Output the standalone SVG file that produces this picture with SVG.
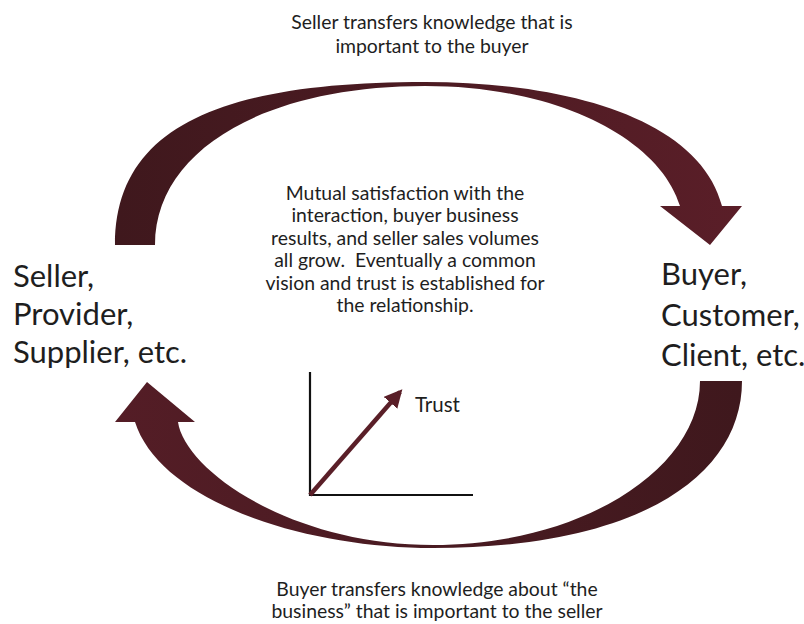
<svg xmlns="http://www.w3.org/2000/svg" width="804" height="624" viewBox="0 0 804 624">
  <defs>
    <linearGradient id="topFill" gradientUnits="userSpaceOnUse" x1="115" y1="0" x2="742" y2="0">
      <stop offset="0" stop-color="#3f181d"/>
      <stop offset="1" stop-color="#5a1e28"/>
    </linearGradient>
    <linearGradient id="bottomFill" gradientUnits="userSpaceOnUse" x1="742" y1="0" x2="115" y2="0">
      <stop offset="0" stop-color="#3f181d"/>
      <stop offset="1" stop-color="#541d26"/>
    </linearGradient>
    <marker id="trustHead" viewBox="0 0 10 10" refX="8" refY="5" markerWidth="4" markerHeight="4" orient="auto" markerUnits="strokeWidth">
      <path d="M0,0 L10,5 L0,10 Z" fill="#5a1f28"/>
    </marker>
  </defs>
  <style>
    .txt { font-family: "Lato", "Liberation Sans", sans-serif; fill: #1e1e1e; white-space: pre; }
    .note { font-size: 19.4px; text-anchor: middle; }
    .party { font-size: 31px; }
    .axis { stroke: #111; stroke-width: 2.2; fill: none; }
  </style>

  <!-- curved flow arrows between the two parties -->
  <g id="connectors">
    <path id="arrow-seller-to-buyer" fill="url(#topFill)"
      d="M115,245 C115,125 225,82 425,82 C570,82 700,120 722,206 L742,206 L710,245 L660,206 L680,206 C660,140 560,86 425,86 C265,86 155,150 155,245 Z"/>
    <path id="arrow-buyer-to-seller" fill="url(#bottomFill)"
      d="M742,381 C742,475 640,548 433,548 C300,548 160,500 135,422 L115,422 L147,382 L195,422 L178,422 C185,470 290,545 433,545 C580,545 700,470 700,381 Z"/>
    <text class="txt note" x="432" y="29">Seller transfers knowledge that is</text>
    <text class="txt note" x="432" y="52.5">important to the buyer</text>
    <text class="txt note" x="437" y="596">Buyer transfers knowledge about “the</text>
    <text class="txt note" x="437" y="618">business” that is important to the seller</text>
  </g>

  <g id="seller">
    <text class="txt party" x="13" y="287">Seller,</text>
    <text class="txt party" x="13" y="325">Provider,</text>
    <text class="txt party" x="13" y="363">Supplier, etc.</text>
  </g>

  <g id="buyer">
    <text class="txt party" x="661" y="285">Buyer,</text>
    <text class="txt party" x="661" y="326">Customer,</text>
    <text class="txt party" x="661" y="366">Client, etc.</text>
  </g>

  <g id="outcome">
    <text class="txt note" x="405" y="199.5">Mutual satisfaction with the</text>
    <text class="txt note" x="405" y="222">interaction, buyer business</text>
    <text class="txt note" x="405" y="244.5">results, and seller sales volumes</text>
    <text class="txt note" x="405" y="267">all grow.  Eventually a common</text>
    <text class="txt note" x="405" y="289.5">vision and trust is established for</text>
    <text class="txt note" x="405" y="312">the relationship.</text>
  </g>

  <g id="trust-chart">
    <path class="axis" d="M310,372 L310,495 L473,495"/>
    <line x1="310" y1="495" x2="400" y2="392" stroke="#5a1f28" stroke-width="4.5" marker-end="url(#trustHead)"/>
    <text class="txt" x="415" y="412" font-size="20.5px">Trust</text>
  </g>
</svg>
